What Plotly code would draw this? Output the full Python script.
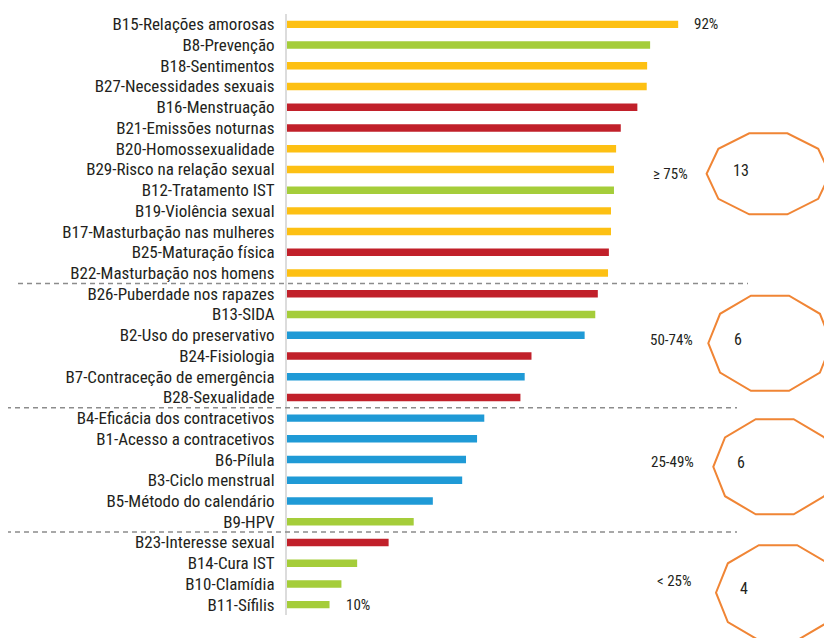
import plotly.graph_objects as go
import math

# ---------------- data ----------------
categories = [
    "B15-Relações amorosas", "B8-Prevenção", "B18-Sentimentos", "B27-Necessidades sexuais",
    "B16-Menstruação", "B21-Emissões noturnas", "B20-Homossexualidade",
    "B29-Risco na relação sexual", "B12-Tratamento IST", "B19-Violência sexual",
    "B17-Masturbação nas mulheres", "B25-Maturação física", "B22-Masturbação nos homens",
    "B26-Puberdade nos rapazes", "B13-SIDA", "B2-Uso do preservativo", "B24-Fisiologia",
    "B7-Contraceção de emergência", "B28-Sexualidade",
    "B4-Eficácia dos contracetivos", "B1-Acesso a contracetivos", "B6-Pílula",
    "B3-Ciclo menstrual", "B5-Método do calendário", "B9-HPV",
    "B23-Interesse sexual", "B14-Cura IST", "B10-Clamídia", "B11-Sífilis",
]
values = [
    92, 85.4, 84.7, 84.6, 82.4, 78.5, 77.4, 76.9, 76.9, 76.2, 76.2, 75.7, 75.5,
    73.1, 72.5, 70.0, 57.5, 55.9, 54.9,
    46.4, 44.7, 42.1, 41.2, 34.3, 29.8,
    23.9, 16.5, 12.8, 10,
]
themes = [
    "rel", "ist", "rel", "rel", "corpo", "corpo", "rel", "rel", "ist", "rel", "rel", "corpo", "rel",
    "corpo", "ist", "contr", "corpo", "contr", "corpo",
    "contr", "contr", "contr", "contr", "contr", "ist",
    "corpo", "ist", "ist", "ist",
]
group_labels = ["≥ 75%", "50-74%", "25-49%", "< 25%"]
group_counts = [13, 6, 6, 4]
value_labels = {"B15-Relações amorosas": "92%", "B11-Sífilis": "10%"}

# ---------------- style ----------------
theme_colors = {"rel": "#FDC013", "ist": "#A5CD3A", "corpo": "#C1202A", "contr": "#1F9AD6"}
FONT = "Roboto Condensed, DejaVu Sans Condensed, sans-serif"
TXT = "#231F20"
ORANGE = "#F08535"

OFF = 8  # page offset of the figure inside the window
W, H = 832 - OFF, 638 - OFF
L, R, T, B = 279, 0, 6, 23
PW, PH = W - L - R, H - T - B
SCALE = 4.252  # px per %


def px(x):
    """reference-screen x -> paper"""
    return (x - OFF - L) / PW


def py(y):
    """reference-screen y -> paper"""
    return (H - B - (y - OFF)) / PH


fig = go.Figure(go.Bar(
    x=values, y=categories, orientation="h",
    marker=dict(color=[theme_colors[t] for t in themes], line=dict(width=0)),
    width=0.36, hoverinfo="x+y",
))

shapes = []
bounds = []
acc = 0
for c in group_counts[:-1]:
    acc += c
    bounds.append(acc - 0.5)
sep_x = [(18, 748), (6, 737), (6, 737)]
for b, (xa, xb) in zip(bounds, sep_x):
    shapes.append(dict(type="line", xref="paper", yref="y", x0=px(xa), x1=px(xb), y0=b, y1=b,
                       line=dict(color="#8c8c8c", width=1.5, dash="5px,4px")))

decs = [(768.3, 173.8, 61.7, 42.6), (770, 343.2, 61.7, 50), (774.7, 466.8, 61.4, 50), (778, 592.7, 62, 50)]
for cx, cy, a, bb in decs:
    pts = []
    for k in range(10):
        th = math.radians(k * 36)
        pts.append((px(cx + a * math.cos(th)), py(cy - bb * math.sin(th))))
    path = "M " + " L ".join(f"{x:.5f},{y:.5f}" for x, y in pts) + " Z"
    shapes.append(dict(type="path", xref="paper", yref="paper", path=path,
                       line=dict(color=ORANGE, width=2), fillcolor="rgba(0,0,0,0)"))

annotations = []
for cat, lab in value_labels.items():
    v = values[categories.index(cat)]
    annotations.append(dict(x=v, y=cat, xref="x", yref="y", text=lab, showarrow=False,
                            xanchor="left", xshift=14, font=dict(family=FONT, size=15, color=TXT)))

grp_pos = [(670, 174), (671, 340), (672, 462), (674, 581)]
num_pos = [(741, 170), (738, 339), (741, 462), (744, 588)]
for lab, cnt, (gx, gy), (nx, ny) in zip(group_labels, group_counts, grp_pos, num_pos):
    annotations.append(dict(x=px(gx), y=py(gy), xref="paper", yref="paper", text=lab, showarrow=False,
                            xanchor="center", yanchor="middle", font=dict(family=FONT, size=15, color=TXT)))
    annotations.append(dict(x=px(nx), y=py(ny), xref="paper", yref="paper", text=str(cnt), showarrow=False,
                            xanchor="center", yanchor="middle", font=dict(family=FONT, size=16, color=TXT)))

fig.update_layout(
    width=W, height=H,
    margin=dict(l=L, r=R, t=T, b=B, pad=0),
    paper_bgcolor="white", plot_bgcolor="white",
    showlegend=False,
    shapes=shapes, annotations=annotations,
    font=dict(family=FONT, color=TXT),
    xaxis=dict(visible=False, range=[0, PW / SCALE], fixedrange=True),
    yaxis=dict(
        type="category", categoryorder="array", categoryarray=categories,
        range=[len(categories) - 0.5, -0.5],
        showline=True, linecolor="#dcdcdc", linewidth=2,
        showgrid=False, zeroline=False, ticks="",
        ticklabelstandoff=7,
        tickfont=dict(family=FONT, size=17, color=TXT),
    ),
)

fig.write_html("out.html")
